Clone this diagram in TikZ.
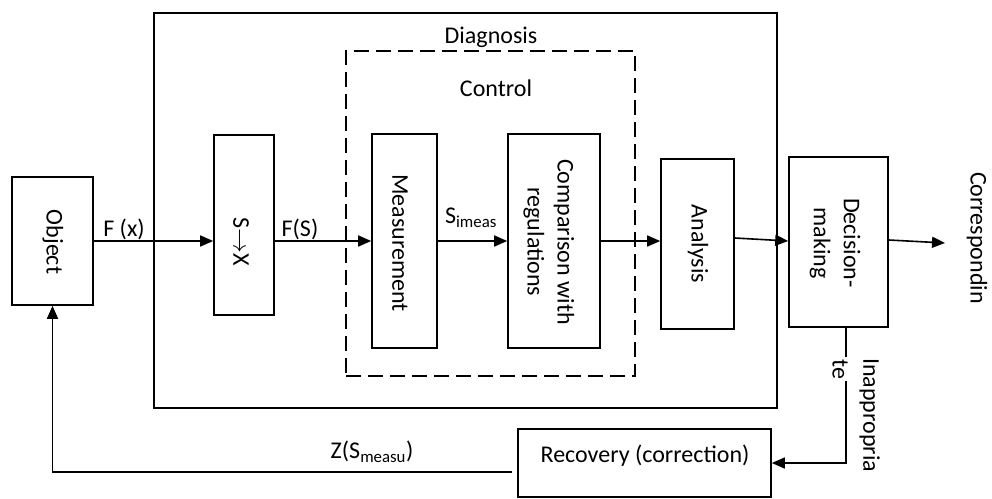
\documentclass[tikz,border=0pt]{standalone}
\usepackage{fontspec}
\setmainfont{Carlito}
\usetikzlibrary{arrows.meta}
\begin{document}
\begin{tikzpicture}[x=1pt,y=-1pt,
  box/.style={draw,line width=1.6pt,inner sep=0pt},
  arr/.style={line width=1.6pt,-{Triangle[length=13pt,width=11pt]}},
  ln/.style={line width=1.6pt},
  txt/.style={font=\fontsize{24}{30}\selectfont,inner sep=1pt},
  rtxt/.style={txt,rotate=-90,align=center}]
\useasboundingbox (0,0) rectangle (992,498);
% containers
\node[box,minimum width=623pt,minimum height=395pt] (diag) at (465.5,210.5) {};
\node[box,dash pattern=on 15pt off 7pt,line width=2pt,minimum width=289pt,minimum height=325pt] (ctrl) at (490.5,213.5) {};
\node[txt] (diagl) at (491,37) {Diagnosis};
\node[txt] (ctrll) at (496,88) {Control};
% blocks
\node[box,minimum width=81pt,minimum height=128pt] (obj) at (52.5,241) {};
\node[rtxt] (objt) at (53,242) {Object};
\node[box,minimum width=60pt,minimum height=180pt] (sx) at (244,225) {};
\node[rtxt] (sxt) at (241,242) {S$\rightarrow$X};
\node[box,minimum width=65pt,minimum height=214pt] (meas) at (404.5,241) {};
\node[rtxt] (meast) at (400,243) {Measurement};
\node[box,minimum width=92pt,minimum height=214pt] (comp) at (554,241) {};
\node[rtxt] (compt) at (549,242) {Comparison with\\regulations};
\node[box,minimum width=73pt,minimum height=170pt] (ana) at (697.5,244) {};
\node[rtxt] (anat) at (698,244) {Analysis};
\node[box,minimum width=99pt,minimum height=170pt] (dec) at (838.5,242) {};
\node[rtxt] (dect) at (835,243) {Decision-\\making};
\node[box,minimum width=253pt,minimum height=68pt] (rec) at (644.5,463) {};
\node[txt] (rect) at (645,456) {Recovery (correction)};
\node[rtxt] (corr) at (977,238) {Correspondin};
% connectors
\coordinate (m) at (0,241);
\coordinate (out) at (945,243);
\draw[arr] (obj.east) -- (sx.west |- m);
\draw[arr] (sx.east |- m) -- (meas.west |- m);
\draw[arr] (meas.east |- m) -- (comp.west |- m);
\draw[arr] (comp.east |- m) -- (ana.west |- m);
\draw[arr] ([yshift=6pt]ana.east) -- ([yshift=1pt]dec.west);
\draw[arr] ([yshift=2pt]dec.east) -- (out);
\draw[arr] ([xshift=7.5pt]dec.south) |- (rec.east);
\draw[arr] ([xshift=-5pt,yshift=-9pt]rec.west) -| (obj.south);
% labels
\node[txt] (fx) at (124,229) {F (x)};
\node[txt] (fs) at (300,229) {F(S)};
\node[txt] (sim) at (471,218) {S\textsubscript{imeas}};
\node[txt] (zs) at (372,452) {Z(S\textsubscript{measu})};
\node[txt,rotate=-90,anchor=north west] (inap1) at (881,357) {Inappropria};
\node[txt,rotate=-90,anchor=north west,fill=white,inner sep=2pt] (inap2) at (850,357) {te};
\end{tikzpicture}
\end{document}
